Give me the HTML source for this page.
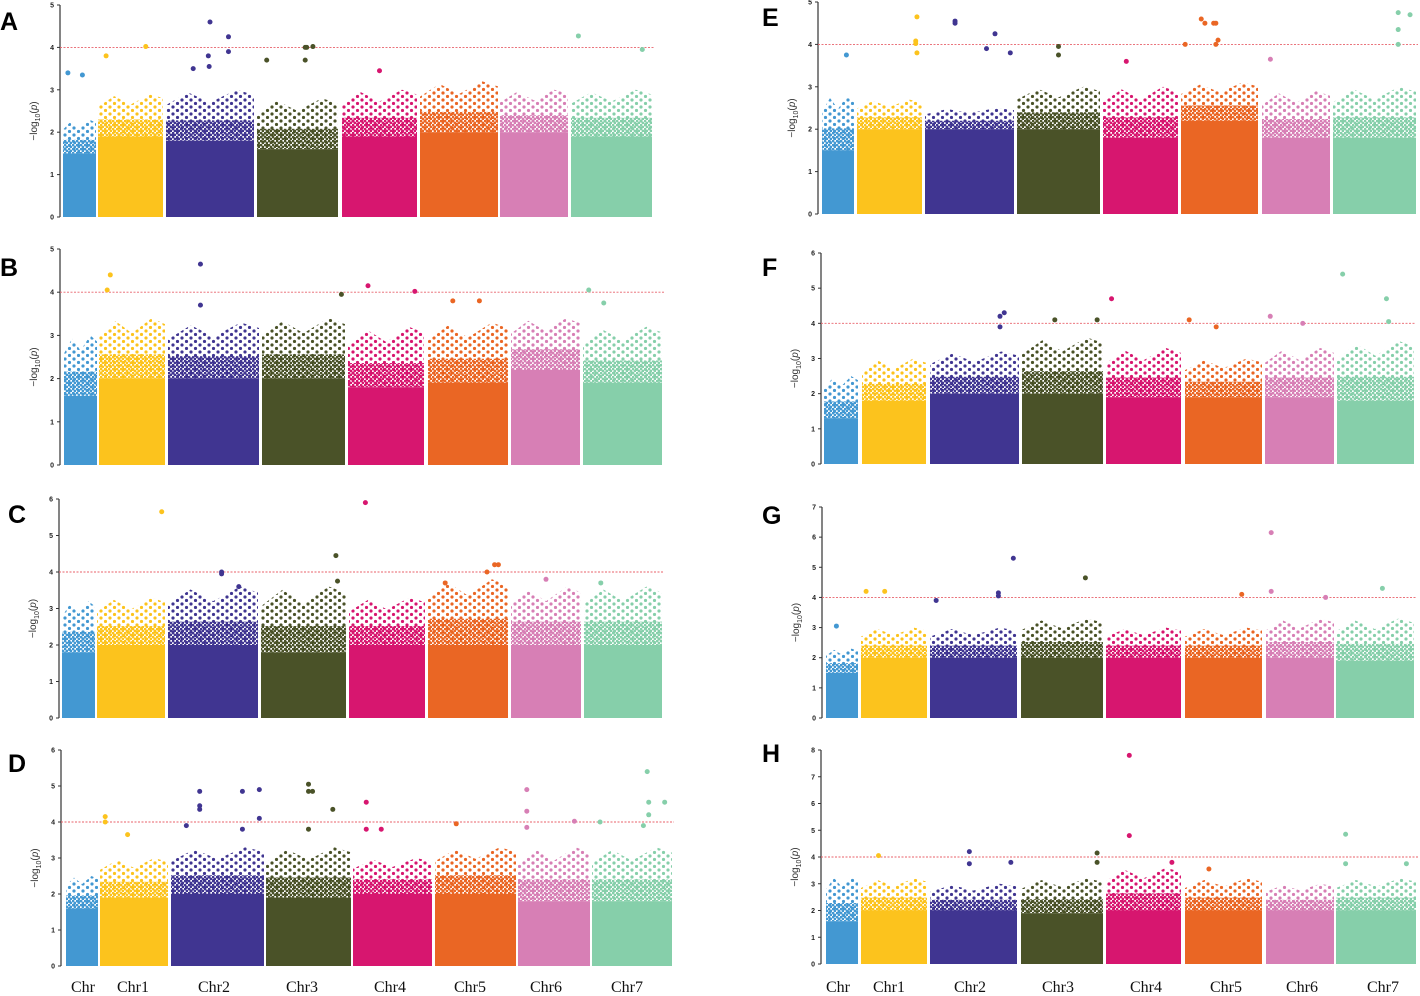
<!DOCTYPE html>
<html><head><meta charset="utf-8">
<style>
html,body{margin:0;padding:0;background:#fff;}
svg{display:block;}
</style></head>
<body>
<svg id="chart" width="1420" height="996" viewBox="0 0 1420 996" xmlns="http://www.w3.org/2000/svg">
<defs id="defs"></defs>
</svg>
<script>
// ---- data ----
const chromosomes = ["Chr","Chr1","Chr2","Chr3","Chr4","Chr5","Chr6","Chr7"];
const panelLetters = ["A","B","C","D","E","F","G","H"];
const yMaxValues = [5,5,6,6,5,6,7,8];
const threshold = 4;
// solid band top (-log10 p) per chromosome
const baseA=[1.5,1.9,1.8,1.6,1.9,2.0,2.0,1.9];
const baseB=[1.6,2.0,2.0,2.0,1.8,1.9,2.2,1.9];
const baseC=[1.8,2.0,2.0,1.8,2.0,2.0,2.0,2.0];
const baseD=[1.6,1.9,2.0,1.9,2.0,2.0,1.8,1.8];
const baseE=[1.5,2.0,2.0,2.0,1.8,2.2,1.8,1.8];
const baseF=[1.3,1.8,2.0,2.0,1.9,1.9,1.9,1.8];
const baseG=[1.5,2.0,2.0,2.0,2.0,2.0,2.0,1.9];
const baseH=[1.6,2.0,2.0,1.9,2.0,2.0,2.0,2.0];
// upper edge of the sparse scatter cloud per chromosome
const envA=[2.3,2.9,3.0,2.8,3.0,3.2,3.0,3.0];
const envB=[3.0,3.4,3.3,3.4,3.2,3.3,3.4,3.2];
const envC=[3.2,3.3,3.6,3.6,3.3,3.8,3.6,3.6];
const envD=[2.5,3.0,3.3,3.3,3.0,3.3,3.3,3.3];
const envE=[2.8,2.7,2.5,3.0,3.0,3.1,2.9,3.0];
const envF=[2.5,3.0,3.2,3.6,3.3,3.0,3.3,3.5];
const envG=[2.3,3.0,3.0,3.3,3.0,3.0,3.3,3.3];
const envH=[3.3,3.2,3.0,3.2,3.6,3.2,3.0,3.2];
// notable SNPs: [chromosome index, relative position, -log10 p]
const peaksA=[[0,0.1,3.4],[0,0.6,3.35],[1,0.1,3.8],[1,0.75,4.02],[2,0.3,3.5],[2,0.5,4.6],[2,0.48,3.8],[2,0.49,3.55],[2,0.72,4.25],[2,0.72,3.9],[3,0.1,3.7],[3,0.6,4.0],[3,0.62,4.0],[3,0.7,4.02],[3,0.6,3.7],[4,0.5,3.45],[7,0.07,4.27],[7,0.9,3.95]];
const peaksB=[[1,0.1,4.05],[1,0.15,4.4],[2,0.35,4.65],[2,0.35,3.7],[3,0.98,3.95],[4,0.25,4.15],[4,0.9,4.02],[5,0.3,3.8],[5,0.65,3.8],[7,0.05,4.05],[7,0.25,3.75]];
const peaksC=[[1,0.98,5.65],[2,0.6,4.0],[2,0.6,3.95],[2,0.8,3.6],[3,0.9,4.45],[3,0.92,3.75],[4,0.2,5.9],[5,0.2,3.7],[5,0.75,4.0],[5,0.85,4.2],[5,0.9,4.2],[6,0.5,3.8],[7,0.2,3.7]];
const peaksD=[[1,0.05,4.15],[1,0.05,4.0],[1,0.4,3.65],[2,0.3,4.85],[2,0.3,4.45],[2,0.3,4.35],[2,0.78,4.85],[2,0.97,4.9],[2,0.97,4.1],[2,0.15,3.9],[2,0.78,3.8],[3,0.5,5.05],[3,0.5,4.85],[3,0.55,4.85],[3,0.8,4.35],[3,0.5,3.8],[4,0.15,4.55],[4,0.15,3.8],[4,0.35,3.8],[5,0.25,3.95],[6,0.1,4.9],[6,0.1,4.3],[6,0.1,3.85],[6,0.8,4.02],[7,0.08,4.0],[7,0.7,5.4],[7,0.72,4.55],[7,0.72,4.2],[7,0.93,4.55],[7,0.65,3.9]];
const peaksE=[[0,0.8,3.75],[1,0.95,4.65],[1,0.93,4.08],[1,0.93,4.02],[1,0.95,3.8],[2,0.33,4.55],[2,0.33,4.5],[2,0.8,4.25],[2,0.7,3.9],[2,0.98,3.8],[3,0.5,3.95],[3,0.5,3.75],[4,0.3,3.6],[5,0.03,4.0],[5,0.25,4.6],[5,0.3,4.5],[5,0.42,4.5],[5,0.45,4.5],[5,0.48,4.1],[5,0.45,4.0],[6,0.1,3.65],[7,0.8,4.75],[7,0.8,4.35],[7,0.8,4.0],[7,0.95,4.7]];
const peaksF=[[2,0.8,4.2],[2,0.85,4.3],[2,0.8,3.9],[3,0.4,4.1],[3,0.95,4.1],[4,0.05,4.7],[5,0.03,4.1],[5,0.4,3.9],[6,0.05,4.2],[6,0.55,4.0],[7,0.05,5.4],[7,0.65,4.7],[7,0.68,4.05]];
const peaksG=[[0,0.3,3.05],[1,0.05,4.2],[1,0.35,4.2],[2,0.05,3.9],[2,0.8,4.15],[2,0.8,4.05],[2,0.98,5.3],[3,0.8,4.65],[5,0.75,4.1],[6,0.05,6.15],[6,0.05,4.2],[6,0.9,4.0],[7,0.6,4.3]];
const peaksH=[[1,0.25,4.05],[2,0.45,4.2],[2,0.45,3.75],[2,0.95,3.8],[3,0.95,4.15],[3,0.95,3.8],[4,0.3,7.8],[4,0.3,4.8],[4,0.9,3.8],[5,0.3,3.55],[7,0.1,4.85],[7,0.1,3.75],[7,0.9,3.75]];
const baseSets=[baseA,baseB,baseC,baseD,baseE,baseF,baseG,baseH];
const envSets=[envA,envB,envC,envD,envE,envF,envG,envH];
const peakSets=[peaksA,peaksB,peaksC,peaksD,peaksE,peaksF,peaksG,peaksH];

// ---- layout ----
const colors=["#4398d2","#fcc31d","#403591","#4a5228","#d7166f","#ea6624","#d77fb5","#86cfaa"];
const layouts=[
 {ax:60,y0:217,yT:5,letterX:0,letterY:30,blocks:[[63,96],[98,163],[166,254],[257,338],[342,417],[420,498],[500,568],[571,652]]},
 {ax:60,y0:465,yT:249,letterX:0,letterY:276,blocks:[[64,97],[99,165],[168,259],[262,345],[348,424],[428,508],[511,580],[583,662]]},
 {ax:59,y0:718,yT:499,letterX:8,letterY:523,blocks:[[62,95],[97,165],[168,258],[261,346],[349,425],[428,508],[511,581],[584,662]]},
 {ax:61,y0:966,yT:750,letterX:8,letterY:772,blocks:[[66,98],[100,168],[171,264],[266,351],[353,432],[435,516],[518,590],[592,672]]},
 {ax:818,y0:214,yT:2,letterX:762,letterY:26,blocks:[[822,854],[857,922],[925,1014],[1017,1100],[1103,1178],[1181,1258],[1262,1330],[1333,1416]]},
 {ax:821,y0:464,yT:253,letterX:762,letterY:276,blocks:[[824,858],[862,926],[930,1019],[1022,1103],[1106,1181],[1185,1262],[1265,1334],[1337,1414]]},
 {ax:822,y0:718,yT:507,letterX:762,letterY:524,blocks:[[826,858],[861,927],[930,1017],[1021,1103],[1106,1181],[1185,1262],[1266,1334],[1336,1414]]},
 {ax:821,y0:964,yT:750,letterX:762,letterY:762,blocks:[[826,858],[861,927],[930,1017],[1021,1103],[1106,1181],[1185,1262],[1266,1334],[1336,1416]]}
];
const NS="http://www.w3.org/2000/svg";
const svg=document.getElementById('chart');
const defs=document.getElementById('defs');
function mk(tag,attrs,parent){const e=document.createElementNS(NS,tag);for(const k in attrs)e.setAttribute(k,attrs[k]);(parent||svg).appendChild(e);return e;}

// dot-texture patterns per colour: dense and sparse
colors.forEach((c,i)=>{
  const p=mk('pattern',{id:'dense'+i,width:4,height:4,patternUnits:'userSpaceOnUse'},defs);
  mk('circle',{cx:1,cy:1,r:1.4,fill:c},p);
  mk('circle',{cx:3,cy:3,r:1.4,fill:c},p);
  const q=mk('pattern',{id:'sparse'+i,width:9,height:7,patternUnits:'userSpaceOnUse'},defs);
  mk('circle',{cx:2,cy:2,r:1.6,fill:c},q);
  mk('circle',{cx:6.5,cy:5.5,r:1.6,fill:c},q);
});

layouts.forEach((L,pi)=>{
  const g=mk('g',{});
  
  
  const ymax=yMaxValues[pi];
  const yS=v=>L.y0-(L.y0-L.yT)*v/ymax;
  const xEnd=L.blocks[7][1];
  const lt=mk('text',{x:L.letterX,y:L.letterY,'font-family':'Liberation Sans, sans-serif','font-size':25,'font-weight':'bold',fill:'#000'},g);
  lt.textContent=panelLetters[pi];
  
  
  const ax=mk('line',{x1:L.ax,y1:L.yT,x2:L.ax,y2:L.y0,stroke:'#333','stroke-width':1.2},g);
  
  
  for(let t=0;t<=ymax;t++){
    const y=yS(t);
    mk('line',{x1:L.ax-3,y1:y,x2:L.ax,y2:y,stroke:'#333','stroke-width':1},g);
    const tx=mk('text',{x:L.ax-6,y:y+2.5,'font-family':'Liberation Sans, sans-serif','font-size':7,'font-weight':'bold','text-anchor':'end',fill:'#222'},g);
    tx.textContent=t;
    
    
  }
  const midY=(L.y0+L.yT)/2+10;
  const yt=mk('text',{x:0,y:0,transform:`translate(${L.ax-23},${midY}) rotate(-90)`,'font-family':'Liberation Sans, sans-serif','font-size':10,'text-anchor':'middle',fill:'#333'},g);
  yt.innerHTML='−log<tspan font-size="7" dy="3">10</tspan><tspan dy="-3">(</tspan><tspan font-style="italic">p</tspan>)';
  
  
  const bases=baseSets[pi], envs=envSets[pi];
  L.blocks.forEach((b,ci)=>{
    const [x1,x2]=b;
    const yb=yS(bases[ci]);
    const ye=yS(envs[ci]);
    const ym=yb-(yb-ye)*0.4;
    const w=x2-x1;
    const sparse=mk('path',{d:`M${x1},${yb} L${x1},${ye+(yb-ye)*0.3} L${x1+w*0.25},${ye+(yb-ye)*0.05} L${x1+w*0.5},${ye+(yb-ye)*0.25} L${x1+w*0.8},${ye} L${x2},${ye+(yb-ye)*0.1} L${x2},${yb} Z`,fill:`url(#sparse${ci})`},g);
    
    
    const dense=mk('rect',{x:x1,y:ym,width:w,height:yb-ym,fill:`url(#dense${ci})`},g);
    
    
    const r=mk('rect',{x:x1,y:yb,width:w,height:L.y0-yb,fill:colors[ci]},g);
    
    
  });
  const th=mk('line',{x1:L.ax,y1:yS(threshold),x2:xEnd+2,y2:yS(threshold),stroke:'#e8606a','stroke-width':0.9,'stroke-dasharray':'2,1.5'},g);
  
  
  peakSets[pi].forEach(pk=>{
    const [ci,f,v]=pk;
    const b=L.blocks[ci];
    const c=mk('circle',{cx:b[0]+2+f*(b[1]-b[0]-4),cy:yS(v),r:2.5,fill:colors[ci]},g);
    
    
  });
});

const leftLabelX=[83,133,214,302,390,470,546,627];
const rightLabelX=[838,889,970,1058,1146,1226,1302,1383];
[leftLabelX,rightLabelX].forEach((arr)=>{
  arr.forEach((x,i)=>{
    const t=mk('text',{x:x,y:992,'font-family':'Liberation Serif, serif','font-size':16,'text-anchor':'middle',fill:'#111'});
    t.textContent=chromosomes[i];
    
    
  });
});
</script>
</body></html>
